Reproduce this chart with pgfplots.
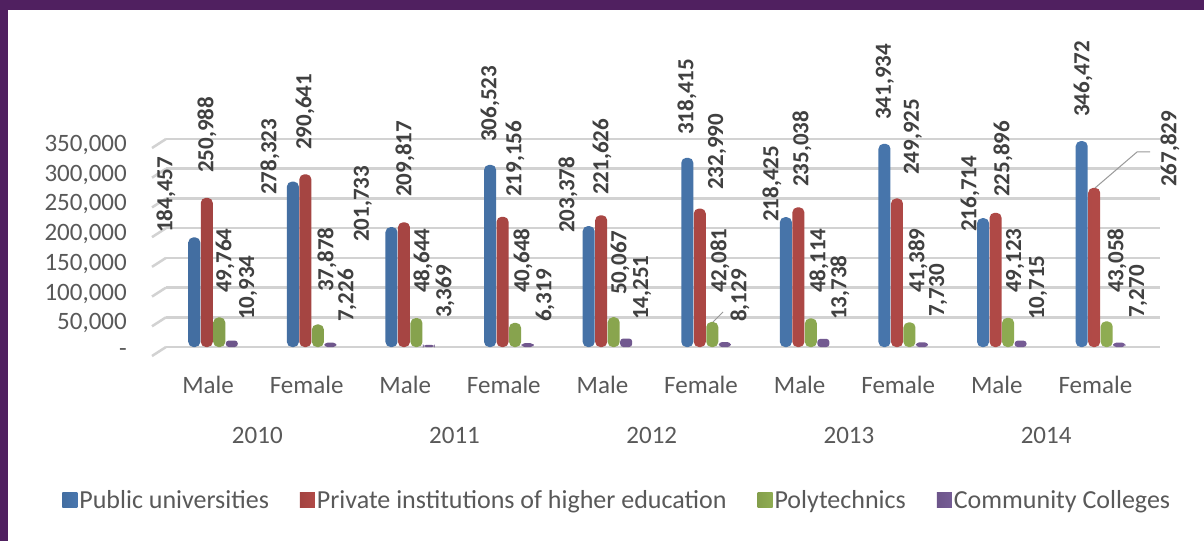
\documentclass[border=0pt]{standalone}
\usepackage{pgfplots}
\pgfplotsset{compat=1.18}
\usepackage{fontspec}
\setmainfont{Carlito}
\definecolor{framepurple}{RGB}{80,32,96}
\definecolor{cblue}{RGB}{79,129,189}
\definecolor{cred}{RGB}{192,80,77}
\definecolor{cgreen}{RGB}{155,187,89}
\definecolor{cpurple}{RGB}{128,100,162}
\definecolor{ticktext}{RGB}{89,89,89}
\definecolor{labtext}{RGB}{64,64,64}
\definecolor{gridc}{RGB}{210,210,210}

\pgfplotstableread{
x y
0 184457
1 278323
2 201733
3 306523
4 203378
5 318415
6 218425
7 341934
8 216714
9 346472
}\pubtab
\pgfplotstableread{
x y
0 250988
1 290641
2 209817
3 219156
4 221626
5 232990
6 235038
7 249925
8 225896
9 267829
}\privtab
\pgfplotstableread{
x y
0 49764
1 37878
2 48644
3 40648
4 50067
5 42081
6 48114
7 41389
8 49123
9 43058
}\polytab
\pgfplotstableread{
x y
0 10934
1 7226
2 3369
3 6319
4 14251
5 8129
6 13738
7 7730
8 10715
9 7270
}\comtab
% data label positions (x, y of label start) and texts
\pgfplotstableread{
x y label
-0.477 191862 184,457
0.578 255816 278,323
1.521 176715 201,733
2.809 345015 306,523
3.600 191862 203,378
4.807 356796 318,415
5.669 210375 218,425
6.815 382041 341,934
7.677 193545 216,714
8.824 387090 346,472
-0.061 292842 250,988
0.933 331551 290,641
1.947 252450 209,817
3.063 252450 219,156
3.945 255816 221,626
5.112 264231 232,990
5.974 269280 235,038
7.099 289476 249,925
8.012 252450 225,896
9.706 269280 267,829
0.122 90882 49,764
1.156 92565 37,878
2.130 90882 48,644
3.144 90882 40,648
4.128 87516 50,067
5.142 90882 42,081
6.146 90882 48,114
7.150 90882 41,389
8.134 90882 49,123
9.168 90882 43,058
0.355 45441 10,934
1.359 42075 7,226
2.353 48807 3,369
3.367 42075 6,319
4.351 45441 14,251
5.345 42075 8,129
6.359 45441 13,738
7.353 50490 7,730
8.367 45441 10,715
9.381 48807 7,270
}\labtab

\begin{document}
\begin{tikzpicture}[x=1pt,y=1pt]
\fill[framepurple] (0,0) rectangle (1204,541);
\fill[white] (8,0) rectangle (1204,531);
\begin{axis}[
  at={(166pt,194pt)}, anchor=south west,
  scale only axis, width=994pt, height=208pt,
  xmin=-0.477, xmax=9.604,
  ymin=0, ymax=350000,
  clip=false,
  axis line style={draw=none},
  major tick length=0pt,
  scaled y ticks=false,
  ytick={50000,100000,150000,200000,250000,300000,350000},
  yticklabel={\pgfmathprintnumber[assume math mode=true,fixed,precision=0,1000 sep={,}]{\tick}},
  extra y ticks={0},
  extra y tick labels={-},
  extra y tick style={grid=major},
  yticklabel style={anchor=east, inner sep=0pt, xshift=-39pt, yshift=-6pt,
     text=ticktext, font=\fontsize{25}{25}\selectfont},
  ymajorgrids,
  grid style={gridc, line width=2.5pt},
  xtick={0,...,9},
  xticklabels={Male,Female,Male,Female,Male,Female,Male,Female,Male,Female},
  xticklabel style={anchor=base, inner sep=0pt, yshift=-46pt, xshift=-5pt,
     text=ticktext, font=\fontsize{25}{25}\selectfont},
  extra x ticks={0.5,2.5,4.5,6.5,8.5},
  extra x tick labels={2010,2011,2012,2013,2014},
  extra x tick style={major tick length=0pt, grid=none,
     xticklabel style={yshift=-50pt}},
  legend columns=4,
  legend style={at={(0.454,-0.736)}, anchor=center, draw=none, fill=none,
     font=\fontsize{26}{26}\selectfont, text=ticktext,
     /tikz/every even column/.append style={column sep=29pt},
     nodes={inner sep=2pt}},
  legend image code/.code={\path[#1, draw=none, rounded corners=0pt] (0pt,-7.5pt) rectangle (15pt,7.5pt);},
]
% 3D floor edges of the gridlines
\addplot[forget plot, gridc, line width=2.5pt, unbounded coords=jump] coordinates {
(-0.619,-15147) (-0.477,0) (nan,nan)
(-0.619,34853) (-0.477,50000) (nan,nan)
(-0.619,84853) (-0.477,100000) (nan,nan)
(-0.619,134853) (-0.477,150000) (nan,nan)
(-0.619,184853) (-0.477,200000) (nan,nan)
(-0.619,234853) (-0.477,250000) (nan,nan)
(-0.619,284853) (-0.477,300000) (nan,nan)
(-0.619,334853) (-0.477,350000)
};
\addplot[ybar, bar width=12pt, bar shift=-18.75pt, draw=none, rounded corners=5pt,
  left color=cblue!85!black, middle color=cblue!72!white, right color=cblue!92!black]
  table[x=x,y=y]{\pubtab};
\addlegendentry{Public universities}
\addplot[ybar, bar width=12pt, bar shift=-6.25pt, draw=none, rounded corners=5pt,
  left color=cred!85!black, middle color=cred!72!white, right color=cred!92!black]
  table[x=x,y=y]{\privtab};
\addlegendentry{Private institutions of higher education}
\addplot[ybar, bar width=12pt, bar shift=6.25pt, draw=none, rounded corners=5pt,
  left color=cgreen!85!black, middle color=cgreen!72!white, right color=cgreen!92!black]
  table[x=x,y=y]{\polytab};
\addlegendentry{Polytechnics}
\addplot[ybar, bar width=12pt, bar shift=18.75pt, draw=none, rounded corners=3pt,
  left color=cpurple!85!black, middle color=cpurple!72!white, right color=cpurple!92!black]
  table[x=x,y=y]{\comtab};
\addlegendentry{Community Colleges}
% leader lines
\addplot[forget plot, gray!80, line width=1pt] coordinates {(8.945,267600) (9.371,328185) (9.503,328185)};
\addplot[forget plot, gray!80, line width=1pt] coordinates {(5.071,42075) (5.172,58905)};
% data labels
\addplot[forget plot, draw=none, mark=none, nodes near coords, point meta=explicit symbolic,
  nodes near coords style={rotate=90, anchor=west, inner sep=0pt, text=labtext,
    font=\bfseries\fontsize{23}{23}\selectfont}]
  table[x=x, y=y, meta=label]{\labtab};
\end{axis}
\end{tikzpicture}
\end{document}
